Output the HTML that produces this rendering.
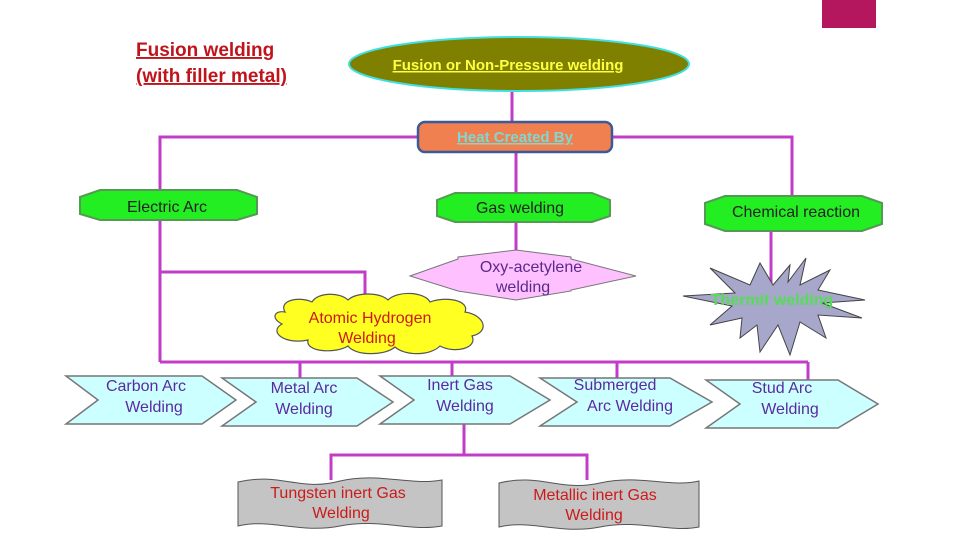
<!DOCTYPE html>
<html><head><meta charset="utf-8"><style>
html,body{margin:0;padding:0;background:#fff;}
svg{display:block;}
text{font-family:"Liberation Sans",Arial,sans-serif;}
</style></head><body>
<svg width="960" height="540" viewBox="0 0 960 540" xmlns="http://www.w3.org/2000/svg">
<rect x="0" y="0" width="960" height="540" fill="#fff"/>
<rect x="822" y="0" width="54" height="28" fill="#b5175f"/>
<!-- title -->
<text x="136" y="56" font-size="19" font-weight="bold" fill="#c0141c" text-decoration="underline">Fusion welding</text>
<text x="136" y="82" font-size="19" font-weight="bold" fill="#c0141c" text-decoration="underline">(with filler metal)</text>
<!-- connectors -->
<g stroke="#c23cc8" stroke-width="3" fill="none">
<line x1="512" y1="90" x2="512" y2="122"/>
<polyline points="418,137 160,137 160,362"/>
<polyline points="612,137 792,137 792,197"/>
<line x1="516" y1="152" x2="516" y2="194"/>
<line x1="516" y1="222" x2="516" y2="252"/>
<line x1="771" y1="231" x2="771" y2="290"/>
<polyline points="160,272 365,272 365,302"/>
<line x1="160" y1="362" x2="808" y2="362"/>
<line x1="300" y1="362" x2="300" y2="380"/>
<line x1="452" y1="362" x2="452" y2="378"/>
<line x1="617" y1="362" x2="617" y2="378"/>
<line x1="808" y1="362" x2="808" y2="380"/>
<line x1="464" y1="423" x2="464" y2="455"/>
<polyline points="331,480 331,455 587,455 587,480"/>
</g>
<!-- ellipse -->
<ellipse cx="519" cy="64" rx="170" ry="27" fill="#808000" stroke="#40e0e0" stroke-width="2"/>
<text x="508" y="70" font-size="15" font-weight="bold" fill="#ffff40" text-anchor="middle" text-decoration="underline">Fusion or Non-Pressure welding</text>
<!-- heat box -->
<rect x="418" y="122" width="194" height="30" rx="7" fill="#f08050" stroke="#3a5a9a" stroke-width="2.5"/>
<text x="515" y="142" font-size="15" font-weight="bold" fill="#7fd8d0" text-anchor="middle" text-decoration="underline">Heat Created By</text>
<!-- green boxes -->
<g fill="#22ee22" stroke="#559955" stroke-width="2">
<polygon points="80,197 100,190 237,190 257,197 257,214 237,220 100,220 80,214"/>
<polygon points="437,200 455,193 592,193 610,200 610,216 592,222 455,222 437,216"/>
<polygon points="705,203 725,196 862,196 882,203 882,224 862,231 725,231 705,224"/>
</g>
<text x="167" y="212" font-size="16" fill="#222" text-anchor="middle">Electric Arc</text>
<text x="520" y="213" font-size="16" fill="#222" text-anchor="middle">Gas welding</text>
<text x="796" y="217" font-size="16" fill="#222" text-anchor="middle">Chemical reaction</text>
<!-- oxy -->
<polygon points="410,276 458,259 458,257 516,250 571,257 571,259 636,276 571,290 571,291 516,300 458,291" fill="#ffc0ff" stroke="#777" stroke-width="1"/>
<text x="531" y="272" font-size="16" fill="#5a2a8a" text-anchor="middle">Oxy-acetylene</text>
<text x="523" y="292" font-size="16" fill="#5a2a8a" text-anchor="middle">welding</text>
<!-- star -->
<polygon points="773,285 790,265 788,282 806,258 800,285 830,270 818,290 865,300 822,303 862,318 818,315 826,338 800,322 790,355 778,325 760,352 757,325 740,338 742,318 710,325 732,306 683,296 735,293 710,268 750,285 760,263" fill="#a7a7cc" stroke="#444" stroke-width="1"/>
<text x="772" y="305" font-size="16" font-weight="bold" fill="#55dd55" text-anchor="middle">Thermit welding</text>
<!-- cloud -->
<g fill="#ffff22" stroke="#555" stroke-width="1.2">
<path d="M285,312 C278,300 300,296 312,302 C318,292 340,292 348,300 C356,292 380,292 388,300 C398,290 425,292 430,302 C445,296 470,300 465,312 C485,315 490,332 472,336 C478,348 455,354 440,346 C430,356 405,356 395,347 C385,356 355,356 348,346 C335,354 305,352 308,340 C285,345 268,332 282,324 C270,318 275,310 285,312 Z"/>
</g>
<text x="370" y="323" font-size="16" fill="#cc1a1a" text-anchor="middle">Atomic Hydrogen</text>
<text x="367" y="343" font-size="16" fill="#cc1a1a" text-anchor="middle">Welding</text>
<!-- chevrons -->
<g fill="#ccffff" stroke="#777" stroke-width="1.5">
<polygon points="66,376 202,376 236,400 202,424 66,424 98,400"/>
<polygon points="222,378 357,378 393,402 357,426 222,426 256,402"/>
<polygon points="380,376 510,376 550,400 510,424 380,424 414,400"/>
<polygon points="540,378 670,378 712,402 670,426 540,426 577,402"/>
<polygon points="706,380 838,380 878,404 838,428 706,428 740,404"/>
</g>
<g font-size="16" fill="#5a2aa0" text-anchor="middle">
<text x="146" y="391">Carbon Arc</text><text x="154" y="412">Welding</text>
<text x="304" y="393">Metal Arc</text><text x="304" y="414">Welding</text>
<text x="460" y="390">Inert Gas</text><text x="465" y="411">Welding</text>
<text x="615" y="390">Submerged</text><text x="630" y="411">Arc Welding</text>
<text x="782" y="393">Stud Arc</text><text x="790" y="414">Welding</text>
</g>
<!-- gray wavy -->
<g fill="#c4c4c4" stroke="#555" stroke-width="1">
<path d="M238,482 C280,472 300,492 340,481 C380,472 410,486 442,480 L442,526 C410,532 380,518 340,526 C300,534 270,518 238,526 Z"/>
<path d="M499,483 C540,473 560,492 600,483 C640,474 670,488 699,481 L699,527 C670,533 640,519 600,527 C560,535 530,519 499,527 Z"/>
</g>
<text x="338" y="498" font-size="16" fill="#cc1a1a" text-anchor="middle">Tungsten inert Gas</text>
<text x="341" y="518" font-size="16" fill="#cc1a1a" text-anchor="middle">Welding</text>
<text x="595" y="500" font-size="16" fill="#cc1a1a" text-anchor="middle">Metallic inert Gas</text>
<text x="594" y="520" font-size="16" fill="#cc1a1a" text-anchor="middle">Welding</text>
</svg>
</body></html>
